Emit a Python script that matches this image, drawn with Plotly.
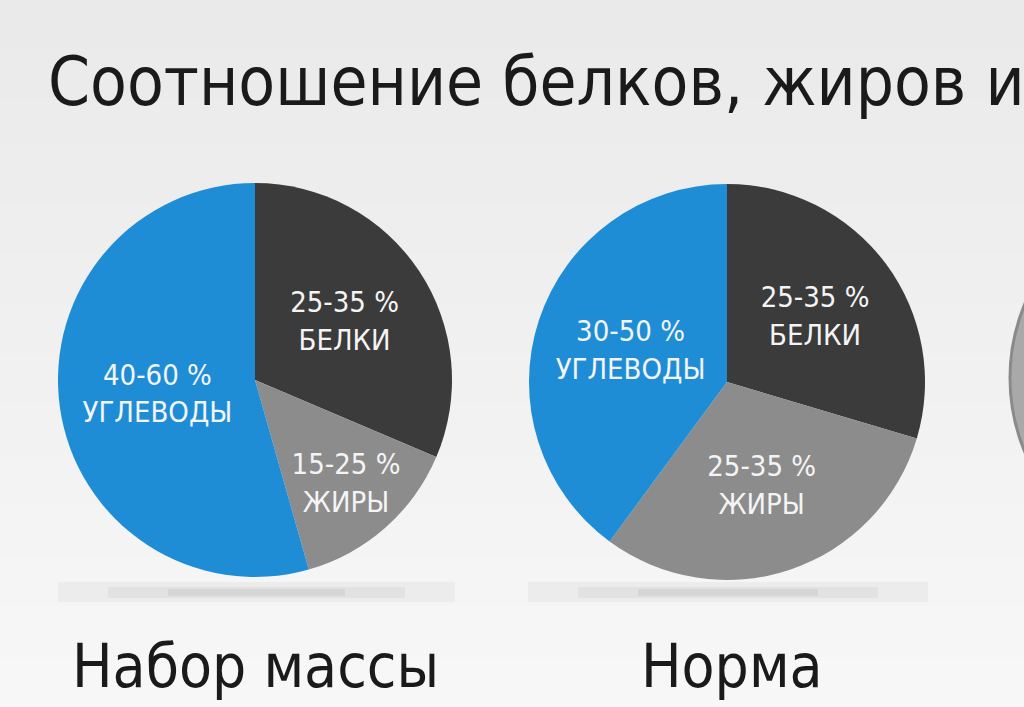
import plotly.graph_objects as go

# ---- data ----
nutrients = ["БЕЛКИ", "ЖИРЫ", "УГЛЕВОДЫ"]
mass_ranges = ["25-35 %", "15-25 %", "40-60 %"]
mass_values = [31.4, 14.2, 54.4]          # share of circle
norm_ranges = ["25-35 %", "25-35 %", "30-50 %"]
norm_values = [29.6, 30.5, 39.9]
chart_names = ["Набор массы", "Норма"]
title_text = "Соотношение белков, жиров и"

slice_colors = ["#3b3b3b", "#8d8c8c", "#1f8dd6"]

W, H = 1024, 707
FONT = "DejaVu Sans Condensed"

def px_x(v):
    return v / W

def px_y(v):
    return 1 - v / H

fig = go.Figure()

def add_pie(values, ranges, cx, cy, r):
    fig.add_trace(go.Pie(
        labels=nutrients,
        values=values,
        text=ranges,
        texttemplate="%{text}<br>%{label}",
        textposition="inside",
        insidetextorientation="horizontal",
        textfont=dict(family=FONT, size=29, color="#f4f4f4"),
        marker=dict(colors=slice_colors, line=dict(width=0)),
        sort=False,
        direction="clockwise",
        rotation=0,
        hole=0,
        showlegend=False,
        hoverinfo="label+text",
        domain=dict(x=[px_x(cx - r), px_x(cx + r)], y=[px_y(cy + r), px_y(cy - r)]),
    ))

add_pie(mass_values, mass_ranges, 255, 380, 197)
add_pie(norm_values, norm_ranges, 727, 382, 198)

shapes = []
# background gradient bands
n = 14
for i in range(n):
    t = i / (n - 1)
    c = int(234 + (247 - 234) * t)
    shapes.append(dict(type="rect", xref="paper", yref="paper",
                       x0=0, x1=1, y0=1 - (i + 1) / n, y1=1 - i / n,
                       fillcolor=f"rgb({c},{c},{c})", line=dict(width=0), layer="below"))
# soft shadows under pies
for (x0, x1) in [(58, 455), (528, 928)]:
    shapes.append(dict(type="rect", xref="paper", yref="paper",
                       x0=px_x(x0), x1=px_x(x1), y0=px_y(602), y1=px_y(582),
                       fillcolor="rgba(215,215,215,0.30)", line=dict(width=0), layer="below"))
    shapes.append(dict(type="rect", xref="paper", yref="paper",
                       x0=px_x(x0 + 50), x1=px_x(x1 - 50), y0=px_y(598), y1=px_y(587),
                       fillcolor="rgba(195,195,195,0.25)", line=dict(width=0), layer="below"))
    shapes.append(dict(type="rect", xref="paper", yref="paper",
                       x0=px_x(x0 + 110), x1=px_x(x1 - 110), y0=px_y(596), y1=px_y(589),
                       fillcolor="rgba(180,180,180,0.25)", line=dict(width=0), layer="below"))
# third pie, cut off at the right edge
shapes.append(dict(type="circle", xref="paper", yref="paper",
                   x0=px_x(1010), x1=px_x(1010 + 384), y0=px_y(378 + 192), y1=px_y(378 - 192),
                   fillcolor="#a9a9a9", line=dict(color="#8a8a8a", width=3), layer="below"))

annotations = [
    dict(text=title_text, xref="paper", yref="paper", x=px_x(46), y=px_y(82),
         xanchor="left", yanchor="middle", showarrow=False,
         font=dict(family=FONT, size=67, color="#1a1a1a")),
    dict(text=chart_names[0], xref="paper", yref="paper", x=px_x(255), y=px_y(666),
         xanchor="center", yanchor="middle", showarrow=False,
         font=dict(family=FONT, size=60, color="#1a1a1a")),
    dict(text=chart_names[1], xref="paper", yref="paper", x=px_x(732), y=px_y(666),
         xanchor="center", yanchor="middle", showarrow=False,
         font=dict(family=FONT, size=60, color="#1a1a1a")),
]

fig.update_layout(
    width=W, height=H,
    margin=dict(l=0, r=0, t=0, b=0),
    paper_bgcolor="#eeeeee",
    plot_bgcolor="#eeeeee",
    shapes=shapes,
    annotations=annotations,
    uniformtext=dict(minsize=29, mode="show"),
)

fig.write_html("out.html")
